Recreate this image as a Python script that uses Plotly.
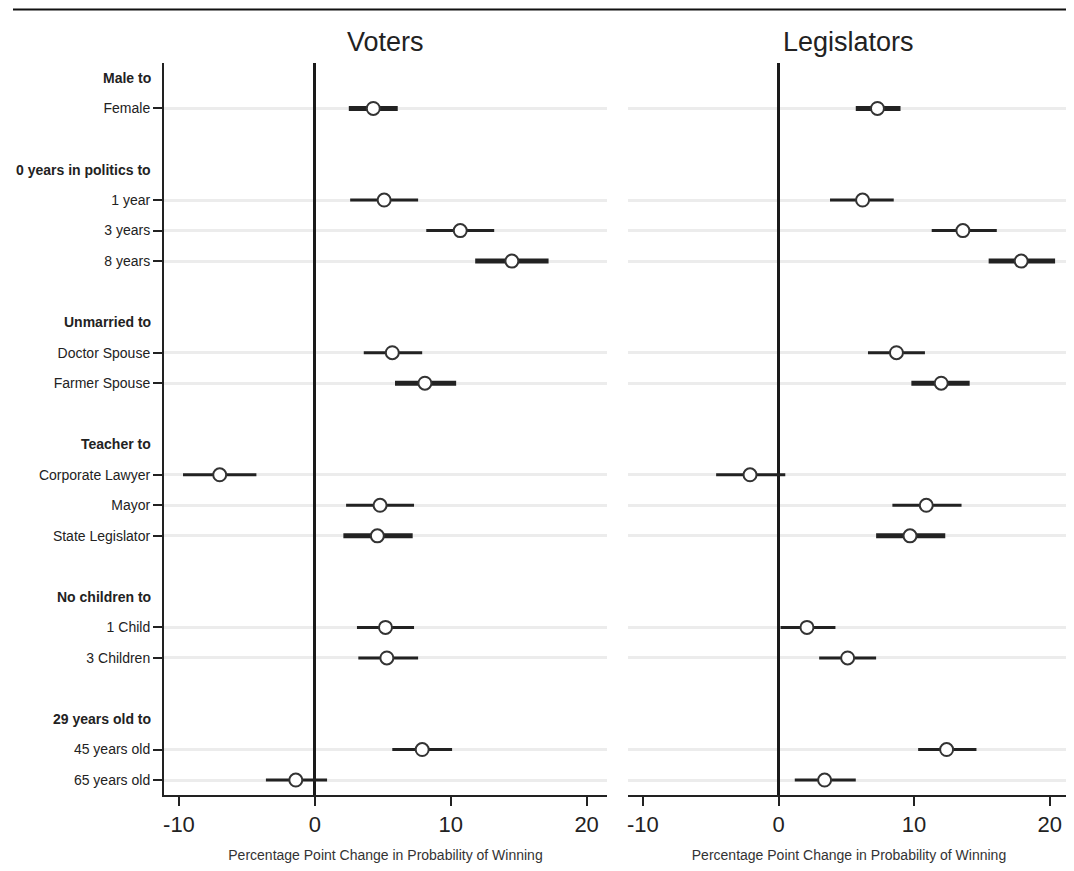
import plotly.graph_objects as go

groups = ["Male to", "0 years in politics to", "Unmarried to", "Teacher to",
          "No children to", "29 years old to"]
levels = [["Female"], ["1 year", "3 years", "8 years"], ["Doctor Spouse", "Farmer Spouse"],
          ["Corporate Lawyer", "Mayor", "State Legislator"], ["1 Child", "3 Children"],
          ["45 years old", "65 years old"]]

voters_est = [4.3, 5.1, 10.7, 14.5, 5.7, 8.1, -7.0, 4.8, 4.6, 5.2, 5.3, 7.9, -1.4]
voters_lo = [2.5, 2.6, 8.2, 11.8, 3.6, 5.9, -9.7, 2.3, 2.1, 3.1, 3.2, 5.7, -3.6]
voters_hi = [6.1, 7.6, 13.2, 17.2, 7.9, 10.4, -4.3, 7.3, 7.2, 7.3, 7.6, 10.1, 0.9]

leg_est = [7.3, 6.2, 13.6, 17.9, 8.7, 12.0, -2.1, 10.9, 9.7, 2.1, 5.1, 12.4, 3.4]
leg_lo = [5.7, 3.8, 11.3, 15.5, 6.6, 9.8, -4.6, 8.4, 7.2, 0.15, 3.0, 10.3, 1.2]
leg_hi = [9.0, 8.5, 16.1, 20.4, 10.8, 14.1, 0.5, 13.5, 12.3, 4.2, 7.2, 14.6, 5.7]

thick_rows = {"Female", "8 years", "Farmer Spouse", "State Legislator"}

x_ticks = [-10, 0, 10, 20]
x_tick_labels = ["-10", "0", "10", "20"]

# row positions
header_pos, item_pos, item_labels = [], [], []
r = 0
for g, lv in zip(groups, levels):
    header_pos.append(r)
    r += 1
    for it in lv:
        item_pos.append(r)
        item_labels.append(it)
        r += 1
    r += 1
last_row = item_pos[-1]

# page body has an 8px default margin; compensate
OFF = 8
W, H = 1074 - OFF, 871 - OFF


def px(x):
    return (x - OFF) / W


def py(y):
    return 1 - (y - OFF) / H


top, bottom = 63, 795
dom_y = [py(bottom), py(top)]
dom_l = [px(164), px(607)]
dom_r = [px(628), px(1070)]
xr = [-11.1, 21.5]

LAB_FONT = "Liberation Sans, Arial"
NUM_FONT = "Liberation Sans, Arial"

fig = go.Figure()


def add_panel(est, lo, hi, xa, ya):
    for thick in (False, True):
        xs, ys = [], []
        for lab, p, a, b in zip(item_labels, item_pos, lo, hi):
            if (lab in thick_rows) == thick:
                xs += [a, b, None]
                ys += [p, p, None]
        fig.add_trace(go.Scatter(x=xs, y=ys, mode="lines", xaxis=xa, yaxis=ya,
                                 line=dict(color="#222222", width=5 if thick else 3),
                                 hoverinfo="skip", showlegend=False))
    fig.add_trace(go.Scatter(x=est, y=item_pos, mode="markers", xaxis=xa, yaxis=ya,
                             marker=dict(symbol="circle", size=13, color="white",
                                         line=dict(color="#333333", width=2)),
                             showlegend=False))


add_panel(voters_est, voters_lo, voters_hi, "x", "y")
add_panel(leg_est, leg_lo, leg_hi, "x2", "y2")

xaxis_common = dict(range=xr, tickvals=x_ticks, ticktext=x_tick_labels, ticks="outside",
                    ticklen=9, tickwidth=2, automargin=False,
                    tickcolor="#222", showline=True, linecolor="#222", linewidth=2,
                    showgrid=False, zeroline=True, zerolinecolor="#1a1a1a", zerolinewidth=3,
                    tickfont=dict(family=NUM_FONT, size=22, color="#222"),
                    title=dict(text="Percentage Point Change in Probability of Winning",
                               font=dict(family=LAB_FONT, size=14, color="#333"), standoff=14))

yaxis_common = dict(range=[last_row + 0.49, -0.49], domain=dom_y, tickvals=item_pos,
                    automargin=False,
                    showgrid=True, gridcolor="#ececec", gridwidth=3, zeroline=False)

fig.update_layout(
    width=W, height=H, margin=dict(l=0, r=0, t=0, b=0),
    plot_bgcolor="white", paper_bgcolor="white",
    xaxis=dict(domain=dom_l, anchor="y", **xaxis_common),
    xaxis2=dict(domain=dom_r, anchor="y2", **xaxis_common),
    yaxis=dict(anchor="x", ticktext=item_labels, ticks="outside", ticklen=9, tickwidth=2,
               tickcolor="#222", showline=True, linecolor="#222", linewidth=2,
               tickfont=dict(family=LAB_FONT, size=14, color="#222"), **yaxis_common),
    yaxis2=dict(anchor="x2", showticklabels=False, ticks="", showline=False, **yaxis_common),
)

# group headers
for g, p in zip(groups, header_pos):
    fig.add_annotation(x=dom_l[0], xref="paper", y=p, yref="y", text="<b>" + g + "</b>",
                       showarrow=False, xanchor="right", xshift=-11,
                       font=dict(family=LAB_FONT, size=14, color="#222"))

# panel titles
for t, d in (("Voters", dom_l), ("Legislators", dom_r)):
    fig.add_annotation(x=(d[0] + d[1]) / 2, xref="paper", y=py(42), yref="paper",
                       text=t, showarrow=False, xanchor="center", yanchor="middle",
                       font=dict(family=NUM_FONT, size=27, color="#222"))

# top rule (as high as the page allows)
fig.add_shape(type="line", xref="paper", yref="paper", x0=px(13), x1=px(1066),
              y0=py(9.5), y1=py(9.5), line=dict(color="#111", width=2))

fig.write_html("out.html")
